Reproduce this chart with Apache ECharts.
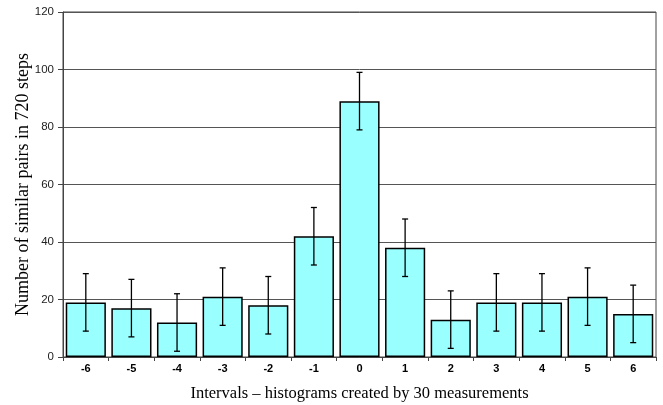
<!DOCTYPE html>
<html>
<head>
<meta charset="utf-8">
<script src="https://cdn.jsdelivr.net/npm/echarts@6/dist/echarts.min.js"></script>
<style>
  html, body { margin: 0; padding: 0; background: #fff; }
  #chart { width: 663px; height: 405px; }
</style>
</head>
<body>
<div id="chart"></div>
<script>
// Interval offsets and the number of similar pairs for each
const categories = ['-6', '-5', '-4', '-3', '-2', '-1', '0', '1', '2', '3', '4', '5', '6'];
const pairCounts = [19, 17, 12, 21, 18, 42, 89, 38, 13, 19, 19, 21, 15];
// Error bar half-widths (same units as the counts)
const errorPlusMinus = [10, 10, 10, 10, 10, 10, 10, 10, 10, 10, 10, 10, 10];
const yTicks = [0, 20, 40, 60, 80, 100, 120];

const errorData = pairCounts.map((v, i) => [i, v - errorPlusMinus[i], v + errorPlusMinus[i]]);

const chart = echarts.init(document.getElementById('chart'), null, { renderer: 'canvas' });

chart.setOption({
  animation: false,
  backgroundColor: '#ffffff',
  grid: {
    left: 63, right: 7, top: 12, bottom: 48,
    outerBoundsMode: 'none',
    containLabel: false,
    show: true, borderColor: '#444', borderWidth: 1, backgroundColor: 'transparent'
  },
  xAxis: {
    type: 'category',
    data: categories,
    name: 'Intervals \u2013 histograms created by 30 measurements',
    nameLocation: 'middle',
    nameGap: 28,
    nameTextStyle: { fontFamily: 'Liberation Serif', fontSize: 16.5, color: '#000' },
    axisLine: { lineStyle: { color: '#444', width: 1 } },
    axisTick: { show: true, alignWithLabel: false, length: 4, lineStyle: { color: '#444' } },
    axisLabel: { fontFamily: 'Liberation Sans', fontSize: 11, fontWeight: 'bold', color: '#000', margin: 6 }
  },
  yAxis: {
    type: 'value',
    min: yTicks[0],
    max: yTicks[yTicks.length - 1],
    interval: 20,
    name: 'Number of similar pairs in 720 steps',
    nameLocation: 'middle',
    nameGap: 31,
    nameMoveOverlap: false,
    nameTextStyle: { fontFamily: 'Liberation Serif', fontSize: 18, color: '#000' },
    axisLine: { show: true, lineStyle: { color: '#444', width: 1 } },
    axisTick: { show: true, length: 5, lineStyle: { color: '#444' } },
    axisLabel: { fontFamily: 'Liberation Sans', fontSize: 11.5, color: '#222', margin: 9 },
    splitLine: { show: true, lineStyle: { color: '#555', width: 1 } }
  },
  series: [
    {
      type: 'bar',
      data: pairCounts,
      barCategoryGap: '12%',
      itemStyle: { color: '#99ffff', borderColor: '#000', borderWidth: 1.5 },
      z: 2
    },
    {
      type: 'custom',
      data: errorData,
      z: 3,
      renderItem: function (params, api) {
        const i = api.value(0);
        const lo = api.coord([i, api.value(1)]);
        const hi = api.coord([i, api.value(2)]);
        const cap = 3;
        const style = { stroke: '#000', lineWidth: 1.3, fill: null };
        return {
          type: 'group',
          children: [
            { type: 'line', shape: { x1: hi[0], y1: hi[1], x2: lo[0], y2: lo[1] }, style: style },
            { type: 'line', shape: { x1: hi[0] - cap, y1: hi[1], x2: hi[0] + cap, y2: hi[1] }, style: style },
            { type: 'line', shape: { x1: lo[0] - cap, y1: lo[1], x2: lo[0] + cap, y2: lo[1] }, style: style }
          ]
        };
      }
    }
  ]
});
</script>
</body>
</html>
